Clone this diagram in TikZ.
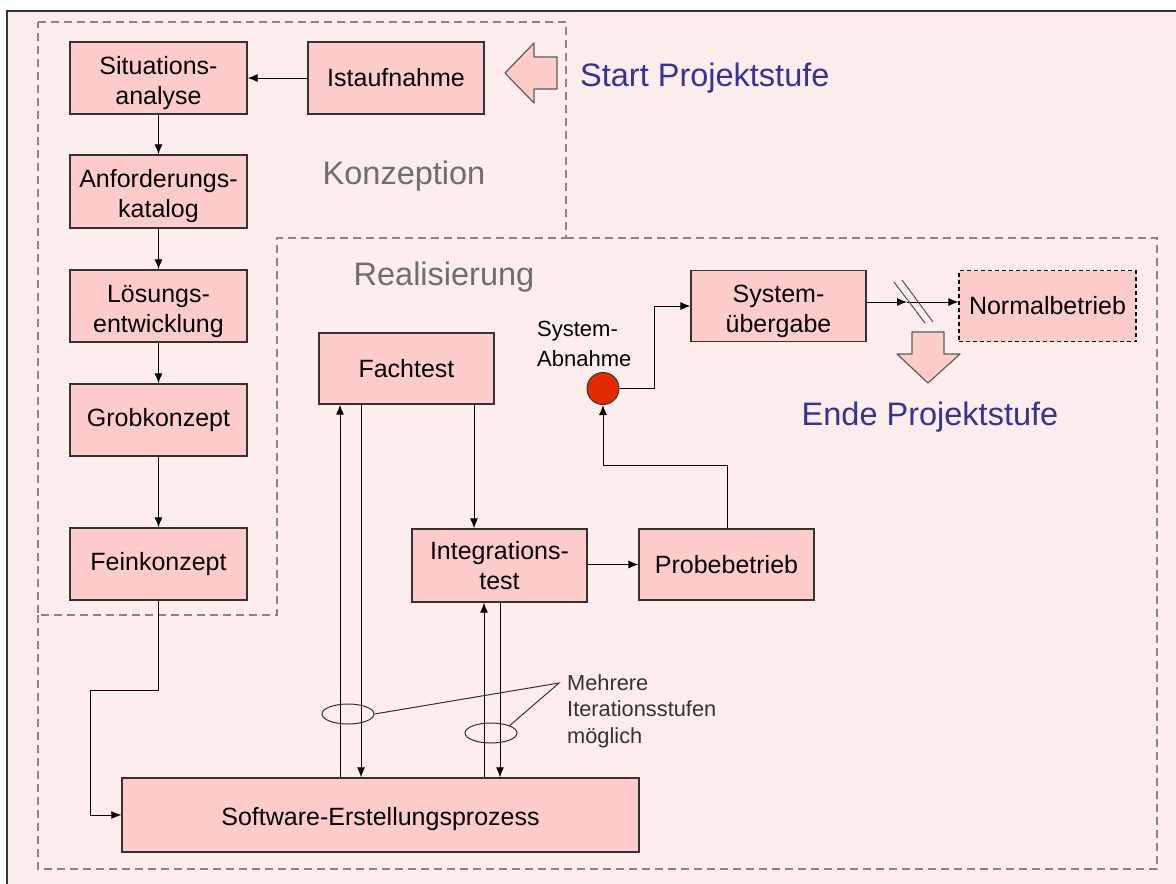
\documentclass[tikz,border=0pt]{standalone}
\usepackage{fontspec}
\setmainfont{Liberation Sans}
\usetikzlibrary{arrows.meta,shapes.geometric}
\definecolor{pagebg}{HTML}{FDEDED}
\definecolor{boxfill}{HTML}{FFCCCC}
\definecolor{edge}{HTML}{333333}
\definecolor{dashgray}{HTML}{858585}
\definecolor{phaseblue}{HTML}{333399}
\definecolor{phasegray}{HTML}{6E6E6E}
\definecolor{signalred}{HTML}{E42A00}
\definecolor{notegray}{HTML}{333333}
% raises the first line of a two-line label so both lines sit centred in the box
\newcommand{\firstline}{\rule{0pt}{28pt}}

\begin{document}
\begin{tikzpicture}[x=1pt,y=-1pt,
  stepbox/.style={draw=edge, line width=1.3pt, fill=boxfill, minimum width=175pt,
    minimum height=72pt, align=center, inner sep=0pt, font=\fontsize{25}{30}\selectfont},
  flow/.style={draw=black, line width=1pt, -{Latex[length=10pt,width=8pt]}},
  region/.style={draw=dashgray, line width=1.3pt, dash pattern=on 8pt off 5pt},
  phase/.style={text=phasegray, font=\fontsize{32.5}{38}\selectfont, inner sep=0pt},
  milestone/.style={text=phaseblue, font=\fontsize{32.5}{38}\selectfont, inner sep=0pt},
  blockarrow/.style={fill=boxfill, draw=edge!80, line width=1.2pt, line join=round},
  loop/.style={ellipse, draw=edge, line width=1pt, minimum width=52pt, minimum height=20pt, inner sep=0pt},
  notetext/.style={text=notegray, align=left, inner sep=0pt, font=\fontsize{21.8}{26.5}\selectfont}
]
\useasboundingbox (0,0) rectangle (1176,884);
\fill[white] (0,0) rectangle (1176,884);
\fill[pagebg] (7,11) rectangle (1176,884);
\draw[edge, line width=1.3pt] (7,884) -- (7,11) -- (1176,11);

% phase regions
\draw[region] (38,22) -- (566,22) -- (566,238) -- (277,238) -- (277,615) -- (38,615) -- cycle;
\draw[region] (566,238) -- (1157,238) -- (1157,869) -- (38,869) -- (38,615);
\node[phase] (konz) at (404,176) {Konzeption};
\node[phase] (real) at (444,277) {Realisierung};

% concept column
\node[stepbox, minimum width=177pt] (sit) at (158.5,78) {\firstline Situations-\\analyse};
\node[stepbox, minimum width=176pt] (ist) at (396,78) {Istaufnahme};
\node[stepbox, minimum width=177pt, minimum height=73pt] (anf) at (158.5,191.5) {\firstline Anforderungs-\\katalog};
\node[stepbox, minimum width=177pt] (loes) at (158.5,306) {\firstline Lösungs-\\entwicklung};
\node[stepbox, minimum width=177pt] (grob) at (158.5,420) {Grobkonzept};
\node[stepbox, minimum width=177pt] (fein) at (158.5,564) {Feinkonzept};

% realisation steps
\node[stepbox, minimum height=71pt] (fach) at (406.5,368.5) {Fachtest};
\node[stepbox, minimum height=73pt] (integ) at (499.5,565.5) {Integrations-\\test};
\node[stepbox, minimum height=71pt] (probe) at (726.5,564.5) {Probebetrieb};
\node[stepbox, minimum height=71pt] (sysu) at (778.5,306) {\firstline System-\\übergabe};
\node[stepbox, minimum width=177pt, minimum height=71pt, draw=black, line width=1.1pt,
  dash pattern=on 4pt off 3pt] (normal) at (1047.5,306) {Normalbetrieb};
\node[stepbox, minimum width=517pt, minimum height=74pt, text height=26pt] (soft) at (380.5,815) {Software-Erstellungsprozess};

% acceptance milestone
\node[circle, draw=edge, line width=1pt, fill=signalred, minimum size=32pt, inner sep=0pt] (abn) at (603,388.5) {};
\node[anchor=west, align=left, inner sep=0pt, font=\fontsize{22}{30}\selectfont] (abnlabel) at (537,344) {System-\\Abnahme};

% start / end of the project stage
\draw[blockarrow] (505,73) -- (534,43) -- (534,57) -- (557,57) -- (557,89) -- (534,89) -- (534,103) -- cycle;
\node[milestone, anchor=west] (start) at (580,78) {Start Projektstufe};
\draw[blockarrow] (912,332) -- (944,332) -- (944,354) -- (960,354) -- (928,383) -- (897,354) -- (912,354) -- cycle;
\node[milestone] (ende) at (930,417) {Ende Projektstufe};

% helper points for the connectors
\coordinate (bend) at (90,690);
\coordinate (xfu) at (340,0);
\coordinate (xfd) at (361,0);
\coordinate (xfi) at (474,0);
\coordinate (xiu) at (484,0);
\coordinate (xid) at (500,0);
\coordinate (pb) at (727,465);
\coordinate (ab) at (654,306);
\coordinate (brk) at (907,302);

% connectors of the concept column
\draw[flow] (ist) -- (sit);
\draw[flow] (sit) -- (anf);
\draw[flow] (anf) -- (loes);
\draw[flow] (loes) -- (grob);
\draw[flow] (grob) -- (fein);
\draw[flow] (fein.south) |- (bend) |- (soft.west);

% test iterations
\draw[flow] (soft.north -| xfu) -- (fach.south -| xfu);
\draw[flow] (fach.south -| xfd) -- (soft.north -| xfd);
\draw[flow] (fach.south -| xfi) -- (integ.north -| xfi);
\draw[flow] (soft.north -| xiu) -- (integ.south -| xiu);
\draw[flow] (integ.south -| xid) -- (soft.north -| xid);
\draw[flow] (integ.east |- probe.west) -- (probe.west);
\draw[flow] (probe.north -| pb) -- (pb) -| (abn.south);
\draw[flow] (abn.east) -| (ab) -- (sysu.west);
\draw[flow] (sysu.east |- brk) -- (brk);
\draw[flow] (brk) -- (brk -| normal.west);
\draw[edge!85, line width=1pt] (894,282) -- (925,323);
\draw[edge!85, line width=1pt] (902,280) -- (933,322);

% iteration note
\node[loop] (it1) at (348,714) {};
\node[loop] (it2) at (491,733) {};
\node[notetext, anchor=west] (note) at (567,711) {Mehrere\\Iterationsstufen\\möglich};
\coordinate (notept) at (559,683);
\draw[notegray, line width=1pt] (it1.east) -- (notept) -- (it2.north east);
\end{tikzpicture}
\end{document}
